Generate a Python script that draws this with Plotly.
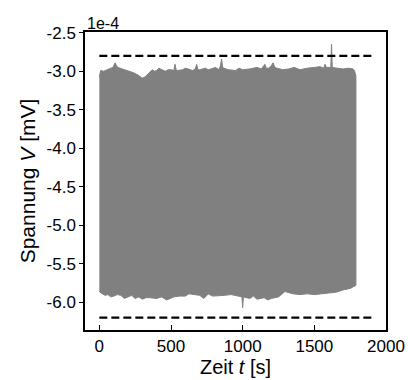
import plotly.graph_objects as go

# Envelope of the dense oscillating voltage signal (values in units of 1e-4 mV)
upper_t = [0, 5, 10, 30, 50, 65, 80, 95, 110, 120, 130, 160, 200, 240, 270, 300, 320, 335, 350, 370,
           385, 400, 415, 430, 445, 460, 480, 500, 520, 528, 536, 545, 580, 600, 620, 650, 670, 679,
           688, 700, 740, 760, 780, 810, 835, 845, 853, 860, 870, 900, 950, 975, 1000, 1050, 1100,
           1130, 1155, 1165, 1180, 1200, 1212, 1225, 1240, 1280, 1320, 1360, 1400, 1450, 1500,
           1540, 1565, 1574, 1585, 1600, 1615, 1620, 1625, 1660, 1700, 1740, 1770, 1780, 1785, 1790]
upper_v = [-3.07, -3.01, -2.99, -3.00, -2.98, -2.97, -2.96, -2.95, -2.89, -2.93, -2.95, -2.97, -2.99,
           -3.02, -3.05, -3.09, -3.07, -3.04, -3.02, -2.98, -3.00, -2.99, -2.96, -2.97, -2.99, -3.00,
           -2.98, -2.98, -2.99, -2.91, -2.98, -2.99, -2.98, -2.96, -2.97, -2.99, -2.97, -2.91, -2.98,
           -2.98, -2.96, -2.98, -2.97, -2.95, -2.98, -2.93, -2.84, -2.95, -2.96, -2.98, -2.99, -2.96,
           -2.98, -2.97, -2.95, -2.97, -2.91, -2.96, -2.96, -2.93, -2.89, -2.95, -2.96, -2.98, -2.97,
           -2.95, -2.98, -2.96, -2.95, -2.94, -2.96, -2.91, -2.95, -2.95, -2.95, -2.65, -2.95, -2.96,
           -2.97, -2.96, -2.97, -2.99, -3.03, -3.06]
lower_t = [0, 20, 40, 60, 80, 100, 125, 150, 175, 200, 225, 250, 275, 300, 325, 350, 400, 435, 470,
           500, 520, 560, 600, 625, 650, 700, 730, 760, 790, 820, 870, 920, 970, 995, 1000, 1005,
           1050, 1075, 1100, 1150, 1175, 1200, 1250, 1295, 1350, 1400, 1450, 1500, 1550, 1600,
           1650, 1700, 1750, 1790]
lower_v = [-5.86, -5.89, -5.91, -5.90, -5.93, -5.92, -5.90, -5.91, -5.95, -5.93, -5.91, -5.95, -5.93,
           -5.96, -5.94, -5.94, -5.95, -5.93, -5.97, -5.95, -5.93, -5.92, -5.92, -5.89, -5.90, -5.91,
           -5.95, -5.89, -5.92, -5.92, -5.91, -5.90, -5.92, -5.93, -6.07, -5.93, -5.95, -5.92, -5.96,
           -5.94, -5.97, -5.95, -5.93, -5.86, -5.89, -5.90, -5.89, -5.90, -5.89, -5.88, -5.87, -5.84,
           -5.82, -5.78]

# Dashed limit lines
limit_t = [0, 1900]
limit_upper = -2.8
limit_lower = -6.2

y_ticks = [-2.5, -3.0, -3.5, -4.0, -4.5, -5.0, -5.5, -6.0]
x_ticks = [0, 500, 1000, 1500, 2000]
scale = 1e-4

poly_x = upper_t + lower_t[::-1]
poly_y = [v * scale for v in upper_v] + [v * scale for v in lower_v[::-1]]

fig = go.Figure()
fig.add_trace(go.Scatter(x=poly_x, y=poly_y, fill="toself", fillcolor="#808080",
                         mode="lines", line=dict(color="#808080", width=1),
                         hoverinfo="skip", showlegend=False))
for lv in (limit_upper, limit_lower):
    fig.add_trace(go.Scatter(x=limit_t, y=[lv * scale] * 2, mode="lines",
                             line=dict(color="black", width=2.2, dash="8px,4px"),
                             showlegend=False))

font = "Liberation Sans, Arial, sans-serif"
fig.update_layout(
    width=408, height=380,
    margin=dict(l=85, r=22, t=32, b=50),
    plot_bgcolor="white", paper_bgcolor="white",
    font=dict(family=font, size=17, color="black"),
    xaxis=dict(range=[-100, 2000], tickvals=x_ticks, ticks="inside", ticklen=5,
               tickwidth=1.2, tickcolor="black", showline=True, linecolor="black",
               linewidth=1.5, mirror=True, showgrid=False, zeroline=False, automargin=False,
               title=dict(text="Zeit <i>t</i> [s]", font=dict(size=20), standoff=5)),
    yaxis=dict(range=[-6.36e-4, -2.49e-4], tickvals=[t * scale for t in y_ticks],
               ticktext=[f"{t:.1f}" for t in y_ticks], ticks="outside", ticklen=4,
               tickwidth=1.2, tickcolor="black", showline=True, linecolor="black",
               linewidth=1.5, mirror=True, showgrid=False, zeroline=False, automargin=False,
               title=dict(text="Spannung <i>V</i> [mV]", font=dict(size=21), standoff=5)),
    annotations=[dict(text="1e-4", x=0, y=1, xref="paper", yref="paper",
                      xanchor="left", yanchor="bottom", showarrow=False,
                      font=dict(size=16), yshift=-2, xshift=0)],
)
fig.write_html("out.html")
